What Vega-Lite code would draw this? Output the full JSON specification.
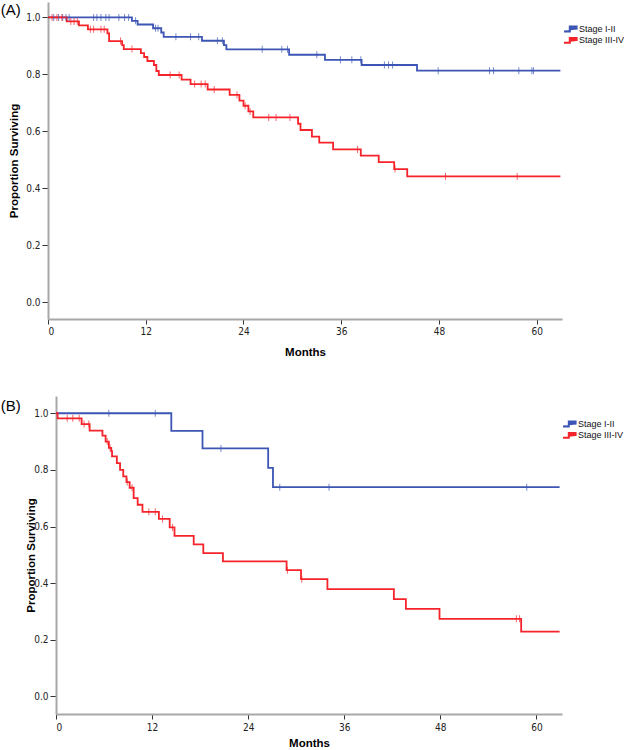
{
  "$schema": "https://vega.github.io/schema/vega-lite/v6.json",
  "padding": {"left": 0, "top": 2, "right": 0, "bottom": 0},
  "spacing": 38,
  "config": {
    "view": {"stroke": null},
    "axis": {
      "grid": false,
      "domainColor": "#a8a8a8",
      "domainWidth": 2,
      "tickColor": "#333333",
      "tickWidth": 1,
      "labelFont": "Liberation Sans Narrow, DejaVu Sans Condensed, Liberation Sans, sans-serif",
      "labelFontSize": 10,
      "labelColor": "#222222",
      "titleFont": "Liberation Sans, Arial, sans-serif",
      "titleFontSize": 11.5,
      "titleFontWeight": "bold",
      "titleColor": "#000000"
    },
    "legend": {
      "labelFont": "Liberation Sans, Arial, sans-serif",
      "labelFontSize": 9,
      "labelColor": "#111111",
      "padding": 0,
      "rowPadding": 1.4,
      "clipHeight": 10,
      "labelOffset": 5
    }
  },
  "datasets": {
    "stepsA": [
      {"stage": "Stage I-II", "month": 0, "surv": 1},
      {"stage": "Stage I-II", "month": 10.3, "surv": 0.988},
      {"stage": "Stage I-II", "month": 11.0, "surv": 0.975},
      {"stage": "Stage I-II", "month": 12.9, "surv": 0.962},
      {"stage": "Stage I-II", "month": 13.9, "surv": 0.947},
      {"stage": "Stage I-II", "month": 14.2, "surv": 0.932},
      {"stage": "Stage I-II", "month": 18.9, "surv": 0.918},
      {"stage": "Stage I-II", "month": 21.6, "surv": 0.903},
      {"stage": "Stage I-II", "month": 21.9, "surv": 0.888},
      {"stage": "Stage I-II", "month": 29.6, "surv": 0.869},
      {"stage": "Stage I-II", "month": 34.0, "surv": 0.851},
      {"stage": "Stage I-II", "month": 38.5, "surv": 0.833},
      {"stage": "Stage I-II", "month": 45.3, "surv": 0.813},
      {"stage": "Stage I-II", "month": 62.9, "surv": 0.813},
      {"stage": "Stage III-IV", "month": 0, "surv": 1},
      {"stage": "Stage III-IV", "month": 2.3, "surv": 0.986},
      {"stage": "Stage III-IV", "month": 3.8, "surv": 0.972},
      {"stage": "Stage III-IV", "month": 4.9, "surv": 0.958},
      {"stage": "Stage III-IV", "month": 7.3, "surv": 0.944},
      {"stage": "Stage III-IV", "month": 7.5, "surv": 0.917},
      {"stage": "Stage III-IV", "month": 9.1, "surv": 0.903},
      {"stage": "Stage III-IV", "month": 9.3, "surv": 0.889},
      {"stage": "Stage III-IV", "month": 11.4, "surv": 0.875},
      {"stage": "Stage III-IV", "month": 11.8, "surv": 0.861},
      {"stage": "Stage III-IV", "month": 12.2, "surv": 0.847},
      {"stage": "Stage III-IV", "month": 13.0, "surv": 0.833},
      {"stage": "Stage III-IV", "month": 13.3, "surv": 0.812},
      {"stage": "Stage III-IV", "month": 13.6, "surv": 0.798},
      {"stage": "Stage III-IV", "month": 16.4, "surv": 0.782},
      {"stage": "Stage III-IV", "month": 17.5, "surv": 0.766},
      {"stage": "Stage III-IV", "month": 19.6, "surv": 0.747},
      {"stage": "Stage III-IV", "month": 22.3, "surv": 0.728},
      {"stage": "Stage III-IV", "month": 23.5, "surv": 0.708},
      {"stage": "Stage III-IV", "month": 24.0, "surv": 0.690},
      {"stage": "Stage III-IV", "month": 24.6, "surv": 0.670},
      {"stage": "Stage III-IV", "month": 25.2, "surv": 0.649},
      {"stage": "Stage III-IV", "month": 30.7, "surv": 0.627},
      {"stage": "Stage III-IV", "month": 31.0, "surv": 0.605},
      {"stage": "Stage III-IV", "month": 32.4, "surv": 0.582},
      {"stage": "Stage III-IV", "month": 33.3, "surv": 0.561},
      {"stage": "Stage III-IV", "month": 35.0, "surv": 0.537},
      {"stage": "Stage III-IV", "month": 38.4, "surv": 0.515},
      {"stage": "Stage III-IV", "month": 40.6, "surv": 0.492},
      {"stage": "Stage III-IV", "month": 42.5, "surv": 0.468},
      {"stage": "Stage III-IV", "month": 44.1, "surv": 0.442},
      {"stage": "Stage III-IV", "month": 62.9, "surv": 0.442}
    ],
    "censA": [
      {"stage": "Stage I-II", "month": 0.7, "surv": 1},
      {"stage": "Stage I-II", "month": 1.3, "surv": 1},
      {"stage": "Stage I-II", "month": 1.8, "surv": 1},
      {"stage": "Stage I-II", "month": 2.2, "surv": 1},
      {"stage": "Stage I-II", "month": 2.6, "surv": 1},
      {"stage": "Stage I-II", "month": 5.6, "surv": 1},
      {"stage": "Stage I-II", "month": 6.0, "surv": 1},
      {"stage": "Stage I-II", "month": 6.5, "surv": 1},
      {"stage": "Stage I-II", "month": 7.1, "surv": 1},
      {"stage": "Stage I-II", "month": 7.5, "surv": 1},
      {"stage": "Stage I-II", "month": 8.7, "surv": 1},
      {"stage": "Stage I-II", "month": 9.4, "surv": 1},
      {"stage": "Stage I-II", "month": 9.9, "surv": 1},
      {"stage": "Stage I-II", "month": 10.75, "surv": 0.988},
      {"stage": "Stage I-II", "month": 13.2, "surv": 0.962},
      {"stage": "Stage I-II", "month": 13.5, "surv": 0.962},
      {"stage": "Stage I-II", "month": 15.7, "surv": 0.932},
      {"stage": "Stage I-II", "month": 17.5, "surv": 0.932},
      {"stage": "Stage I-II", "month": 18.5, "surv": 0.932},
      {"stage": "Stage I-II", "month": 20.8, "surv": 0.918},
      {"stage": "Stage I-II", "month": 21.4, "surv": 0.918},
      {"stage": "Stage I-II", "month": 26.3, "surv": 0.888},
      {"stage": "Stage I-II", "month": 28.7, "surv": 0.888},
      {"stage": "Stage I-II", "month": 29.4, "surv": 0.888},
      {"stage": "Stage I-II", "month": 33.0, "surv": 0.869},
      {"stage": "Stage I-II", "month": 35.9, "surv": 0.851},
      {"stage": "Stage I-II", "month": 37.3, "surv": 0.851},
      {"stage": "Stage I-II", "month": 38.4, "surv": 0.851},
      {"stage": "Stage I-II", "month": 41.3, "surv": 0.833},
      {"stage": "Stage I-II", "month": 41.8, "surv": 0.833},
      {"stage": "Stage I-II", "month": 42.3, "surv": 0.833},
      {"stage": "Stage I-II", "month": 47.9, "surv": 0.813},
      {"stage": "Stage I-II", "month": 54.2, "surv": 0.813},
      {"stage": "Stage I-II", "month": 54.7, "surv": 0.813},
      {"stage": "Stage I-II", "month": 57.8, "surv": 0.813},
      {"stage": "Stage I-II", "month": 59.4, "surv": 0.813},
      {"stage": "Stage I-II", "month": 59.6, "surv": 0.813},
      {"stage": "Stage III-IV", "month": 0.5, "surv": 1},
      {"stage": "Stage III-IV", "month": 1.1, "surv": 1},
      {"stage": "Stage III-IV", "month": 1.7, "surv": 1},
      {"stage": "Stage III-IV", "month": 2.8, "surv": 0.986},
      {"stage": "Stage III-IV", "month": 3.2, "surv": 0.986},
      {"stage": "Stage III-IV", "month": 3.6, "surv": 0.986},
      {"stage": "Stage III-IV", "month": 5.2, "surv": 0.958},
      {"stage": "Stage III-IV", "month": 5.6, "surv": 0.958},
      {"stage": "Stage III-IV", "month": 6.5, "surv": 0.958},
      {"stage": "Stage III-IV", "month": 6.9, "surv": 0.958},
      {"stage": "Stage III-IV", "month": 8.9, "surv": 0.917},
      {"stage": "Stage III-IV", "month": 10.3, "surv": 0.889},
      {"stage": "Stage III-IV", "month": 15.0, "surv": 0.798},
      {"stage": "Stage III-IV", "month": 16.1, "surv": 0.798},
      {"stage": "Stage III-IV", "month": 18.0, "surv": 0.766},
      {"stage": "Stage III-IV", "month": 18.8, "surv": 0.766},
      {"stage": "Stage III-IV", "month": 19.3, "surv": 0.766},
      {"stage": "Stage III-IV", "month": 20.4, "surv": 0.747},
      {"stage": "Stage III-IV", "month": 23.2, "surv": 0.728},
      {"stage": "Stage III-IV", "month": 24.2, "surv": 0.690},
      {"stage": "Stage III-IV", "month": 24.8, "surv": 0.670},
      {"stage": "Stage III-IV", "month": 27.1, "surv": 0.649},
      {"stage": "Stage III-IV", "month": 28.0, "surv": 0.649},
      {"stage": "Stage III-IV", "month": 29.7, "surv": 0.649},
      {"stage": "Stage III-IV", "month": 38.0, "surv": 0.537},
      {"stage": "Stage III-IV", "month": 42.6, "surv": 0.468},
      {"stage": "Stage III-IV", "month": 48.8, "surv": 0.442},
      {"stage": "Stage III-IV", "month": 57.6, "surv": 0.442}
    ],
    "stepsB": [
      {"stage": "Stage I-II", "month": 0, "surv": 1},
      {"stage": "Stage I-II", "month": 14.4, "surv": 0.938},
      {"stage": "Stage I-II", "month": 18.3, "surv": 0.876},
      {"stage": "Stage I-II", "month": 26.5, "surv": 0.807},
      {"stage": "Stage I-II", "month": 27.1, "surv": 0.739},
      {"stage": "Stage I-II", "month": 62.9, "surv": 0.739},
      {"stage": "Stage III-IV", "month": 0, "surv": 1},
      {"stage": "Stage III-IV", "month": 0.2, "surv": 0.982},
      {"stage": "Stage III-IV", "month": 3.2, "surv": 0.962},
      {"stage": "Stage III-IV", "month": 4.2, "surv": 0.939},
      {"stage": "Stage III-IV", "month": 5.8, "surv": 0.921},
      {"stage": "Stage III-IV", "month": 6.2, "surv": 0.900},
      {"stage": "Stage III-IV", "month": 6.6, "surv": 0.878},
      {"stage": "Stage III-IV", "month": 6.9, "surv": 0.866},
      {"stage": "Stage III-IV", "month": 7.0, "surv": 0.848},
      {"stage": "Stage III-IV", "month": 7.6, "surv": 0.824},
      {"stage": "Stage III-IV", "month": 8.0, "surv": 0.800},
      {"stage": "Stage III-IV", "month": 8.4, "surv": 0.777},
      {"stage": "Stage III-IV", "month": 8.8, "surv": 0.757},
      {"stage": "Stage III-IV", "month": 9.2, "surv": 0.737},
      {"stage": "Stage III-IV", "month": 9.7, "surv": 0.700},
      {"stage": "Stage III-IV", "month": 10.2, "surv": 0.677},
      {"stage": "Stage III-IV", "month": 10.8, "surv": 0.652},
      {"stage": "Stage III-IV", "month": 12.85, "surv": 0.627},
      {"stage": "Stage III-IV", "month": 14.2, "surv": 0.597},
      {"stage": "Stage III-IV", "month": 14.8, "surv": 0.567},
      {"stage": "Stage III-IV", "month": 17.2, "surv": 0.537},
      {"stage": "Stage III-IV", "month": 18.4, "surv": 0.506},
      {"stage": "Stage III-IV", "month": 20.85, "surv": 0.477},
      {"stage": "Stage III-IV", "month": 28.8, "surv": 0.446},
      {"stage": "Stage III-IV", "month": 30.6, "surv": 0.414},
      {"stage": "Stage III-IV", "month": 33.9, "surv": 0.379},
      {"stage": "Stage III-IV", "month": 42.2, "surv": 0.344},
      {"stage": "Stage III-IV", "month": 43.7, "surv": 0.309},
      {"stage": "Stage III-IV", "month": 47.9, "surv": 0.274},
      {"stage": "Stage III-IV", "month": 58.1, "surv": 0.229},
      {"stage": "Stage III-IV", "month": 62.9, "surv": 0.229}
    ],
    "censB": [
      {"stage": "Stage I-II", "month": 6.6, "surv": 1},
      {"stage": "Stage I-II", "month": 12.4, "surv": 1},
      {"stage": "Stage I-II", "month": 20.6, "surv": 0.876},
      {"stage": "Stage I-II", "month": 27.95, "surv": 0.739},
      {"stage": "Stage I-II", "month": 34.1, "surv": 0.739},
      {"stage": "Stage I-II", "month": 58.8, "surv": 0.739},
      {"stage": "Stage III-IV", "month": 1.4, "surv": 0.982},
      {"stage": "Stage III-IV", "month": 2.1, "surv": 0.982},
      {"stage": "Stage III-IV", "month": 2.9, "surv": 0.982},
      {"stage": "Stage III-IV", "month": 3.5, "surv": 0.962},
      {"stage": "Stage III-IV", "month": 4.1, "surv": 0.962},
      {"stage": "Stage III-IV", "month": 6.4, "surv": 0.900},
      {"stage": "Stage III-IV", "month": 6.75, "surv": 0.878},
      {"stage": "Stage III-IV", "month": 8.9, "surv": 0.757},
      {"stage": "Stage III-IV", "month": 9.5, "surv": 0.737},
      {"stage": "Stage III-IV", "month": 11.6, "surv": 0.652},
      {"stage": "Stage III-IV", "month": 12.4, "surv": 0.652},
      {"stage": "Stage III-IV", "month": 13.3, "surv": 0.627},
      {"stage": "Stage III-IV", "month": 14.55, "surv": 0.597},
      {"stage": "Stage III-IV", "month": 28.9, "surv": 0.446},
      {"stage": "Stage III-IV", "month": 30.7, "surv": 0.414},
      {"stage": "Stage III-IV", "month": 57.5, "surv": 0.274},
      {"stage": "Stage III-IV", "month": 57.9, "surv": 0.274}
    ]
  },
  "vconcat": [
    {
      "width": 514,
      "height": 317,
      "title": {"text": "(A)", "anchor": "start", "frame": "bounds", "orient": "top", "offset": -16, "baseline": "top", "dx": -8, "font": "Liberation Sans, Arial, sans-serif", "fontSize": 15, "fontWeight": "normal", "color": "#000000"},
      "layer": [
        {
          "data": {"name": "stepsA"},
          "mark": {"type": "line", "interpolate": "step-after", "strokeWidth": 1.8},
          "encoding": {
            "x": {"field": "month", "type": "quantitative", "scale": {"domain": [0, 63.1], "nice": false, "zero": false}, "axis": {"title": "Months", "values": [0, 12, 24, 36, 48, 60], "tickSize": 5, "labelPadding": 2, "titlePadding": 10}},
            "y": {"field": "surv", "type": "quantitative", "scale": {"domain": [-0.058, 1.054], "nice": false, "zero": false}, "axis": {"title": "Proportion Surviving", "values": [0, 0.2, 0.4, 0.6, 0.8, 1.0], "format": ".1f", "tickSize": 6, "labelPadding": 2, "titlePadding": 6}},
            "color": {"field": "stage", "type": "nominal", "scale": {"domain": ["Stage I-II", "Stage III-IV"], "range": ["#3d55b4", "#f5242b"]},
              "legend": {"title": null, "orient": "none", "legendX": 516, "legendY": 22, "symbolSize": 64, "symbolStrokeWidth": 2, "symbolType": "M-2,0.6 L0.2,0.6 L0.2,-0.6 L1.9,-0.6 L1.9,0.15", "encode": {"symbols": {"update": {"fill": {"value": "transparent"}}}}}}
          }
        },
        {
          "data": {"name": "censA"},
          "mark": {"type": "tick", "orient": "vertical", "size": 7, "thickness": 1},
          "encoding": {
            "x": {"field": "month", "type": "quantitative"},
            "y": {"field": "surv", "type": "quantitative"},
            "color": {"field": "stage", "type": "nominal", "legend": null}
          }
        }
      ]
    },
    {
      "width": 514,
      "height": 318,
      "title": {"text": "(B)", "anchor": "start", "frame": "bounds", "orient": "top", "offset": -18, "baseline": "top", "dx": -25, "font": "Liberation Sans, Arial, sans-serif", "fontSize": 15, "fontWeight": "normal", "color": "#000000"},
      "layer": [
        {
          "data": {"name": "stepsB"},
          "mark": {"type": "line", "interpolate": "step-after", "strokeWidth": 1.8},
          "encoding": {
            "x": {"field": "month", "type": "quantitative", "scale": {"domain": [0, 63.2], "range": [8, 514], "nice": false, "zero": false}, "axis": {"title": "Months", "values": [0, 12, 24, 36, 48, 60], "tickSize": 5, "labelPadding": 3, "titlePadding": 5}},
            "y": {"field": "surv", "type": "quantitative", "scale": {"domain": [-0.062, 1.061], "nice": false, "zero": false}, "axis": {"title": "Proportion Surviving", "values": [0, 0.2, 0.4, 0.6, 0.8, 1.0], "format": ".1f", "tickSize": 6, "labelPadding": 2, "titlePadding": -3, "offset": -8}},
            "color": {"field": "stage", "type": "nominal", "scale": {"domain": ["Stage I-II", "Stage III-IV"], "range": ["#3d55b4", "#f5242b"]},
              "legend": {"title": null, "orient": "none", "legendX": 515, "legendY": 23, "symbolSize": 64, "symbolStrokeWidth": 2, "symbolType": "M-2,0.6 L0.2,0.6 L0.2,-0.6 L1.9,-0.6 L1.9,0.15", "encode": {"symbols": {"update": {"fill": {"value": "transparent"}}}}}}
          }
        },
        {
          "data": {"name": "censB"},
          "mark": {"type": "tick", "orient": "vertical", "size": 7, "thickness": 1},
          "encoding": {
            "x": {"field": "month", "type": "quantitative"},
            "y": {"field": "surv", "type": "quantitative"},
            "color": {"field": "stage", "type": "nominal", "legend": null}
          }
        }
      ]
    }
  ],
  "resolve": {"legend": {"color": "independent"}, "scale": {"color": "independent"}}
}
